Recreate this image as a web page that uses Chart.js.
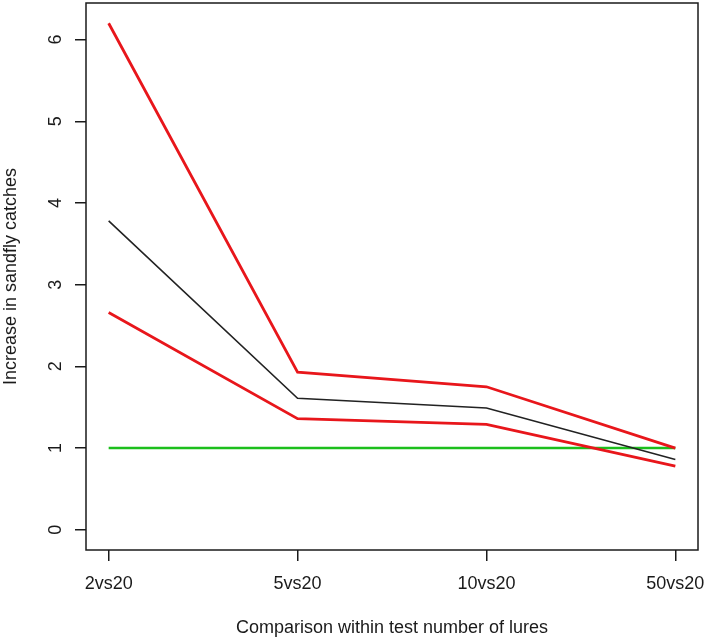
<!DOCTYPE html>
<html>
<head>
<meta charset="utf-8">
<title>Increase in sandfly catches</title>
<script src="https://cdn.jsdelivr.net/npm/chart.js@4.4.1/dist/chart.umd.min.js"></script>
<style>
    html, body { margin: 0; padding: 0; background: #fff; }
    #wrap { width: 707px; height: 640px; position: relative; }
</style>
</head>
<body>
<div id="wrap"><canvas id="lureChart"></canvas></div>
<script>
const comparisons = ["2vs20", "5vs20", "10vs20", "50vs20"];
const upperCI = [6.2, 1.93, 1.75, 1.0];
const estimate = [3.78, 1.61, 1.49, 0.86];
const lowerCI = [2.66, 1.36, 1.29, 0.78];
const reference = [1, 1, 1, 1];
const yTicks = [0, 1, 2, 3, 4, 5, 6];

document.addEventListener("DOMContentLoaded", () => {

    const chartCanvas = document.getElementById("lureChart");
    const textColor = "#1a1a1a";
    const fontFamily = "'Liberation Sans', Arial, sans-serif";

    // x positions 1..n like R's default index axis
    const toPoints = (values) => values.map((v, i) => ({ x: i + 1, y: v }));

    // R style box round the plot region
    const boxPlugin = {
        id: "boxPlugin",
        afterDraw(chart) {
            const { ctx, chartArea } = chart;
            ctx.save();
            ctx.strokeStyle = textColor;
            ctx.lineWidth = 1.5;
            ctx.strokeRect(chartArea.left, chartArea.top,
                chartArea.right - chartArea.left, chartArea.bottom - chartArea.top);
            ctx.restore();
        }
    };

    // y tick labels turned 90 degrees, as R draws them
    const yLabelPlugin = {
        id: "yLabelPlugin",
        afterDraw(chart) {
            const { ctx } = chart;
            const yScale = chart.scales.y;
            ctx.save();
            ctx.fillStyle = textColor;
            ctx.font = "18px " + fontFamily;
            ctx.textAlign = "center";
            ctx.textBaseline = "alphabetic";
            yTicks.forEach(v => {
                const y = yScale.getPixelForValue(v);
                ctx.save();
                ctx.translate(61, y);
                ctx.rotate(-Math.PI / 2);
                ctx.fillText(String(v), 0, 0);
                ctx.restore();
            });
            ctx.restore();
        }
    };

    new Chart(chartCanvas.getContext("2d"), {
        type: "line",
        data: {
            datasets: [
                {
                    label: "Estimate",
                    data: toPoints(estimate),
                    borderColor: "#222222",
                    borderWidth: 1.6
                },
                {
                    label: "Upper limit",
                    data: toPoints(upperCI),
                    borderColor: "#e8161b",
                    borderWidth: 2.8
                },
                {
                    label: "Lower limit",
                    data: toPoints(lowerCI),
                    borderColor: "#e8161b",
                    borderWidth: 2.8
                },
                {
                    label: "No effect",
                    data: toPoints(reference),
                    borderColor: "#1cbf1c",
                    borderWidth: 2.4
                }
            ]
        },
        options: {
            responsive: true,
            maintainAspectRatio: false,
            animation: false,
            elements: {
                point: { radius: 0, hoverRadius: 0 },
                line: { tension: 0, fill: false }
            },
            layout: {
                padding: { top: 3, right: 9, left: 0, bottom: 0 }
            },
            plugins: {
                legend: { display: false },
                tooltip: { enabled: false }
            },
            scales: {
                x: {
                    type: "linear",
                    min: 0.88,
                    max: 4.12,
                    afterBuildTicks: (scale) => {
                        scale.ticks = comparisons.map((c, i) => ({ value: i + 1 }));
                    },
                    afterFit: (scale) => {
                        scale.height = 90;
                        scale.paddingLeft = 0;
                        scale.paddingRight = 0;
                    },
                    border: { display: false },
                    grid: {
                        drawOnChartArea: false,
                        drawTicks: true,
                        tickLength: 11,
                        color: textColor,
                        lineWidth: 1.5
                    },
                    ticks: {
                        autoSkip: false,
                        maxRotation: 0,
                        padding: 12,
                        color: textColor,
                        font: { size: 18, family: fontFamily },
                        callback: (value) => comparisons[Math.round(value) - 1]
                    },
                    title: {
                        display: true,
                        text: "Comparison within test number of lures",
                        color: textColor,
                        font: { size: 18, family: fontFamily },
                        padding: { top: 0, bottom: 1 }
                    }
                },
                y: {
                    type: "linear",
                    min: -0.248,
                    max: 6.448,
                    afterBuildTicks: (scale) => {
                        scale.ticks = yTicks.map(v => ({ value: v }));
                    },
                    afterFit: (scale) => {
                        scale.width = 86;
                        scale.paddingTop = 0;
                        scale.paddingBottom = 0;
                    },
                    border: { display: false },
                    grid: {
                        drawOnChartArea: false,
                        drawTicks: true,
                        tickLength: 11,
                        color: textColor,
                        lineWidth: 1.5
                    },
                    ticks: { display: false },
                    title: {
                        display: true,
                        text: "Increase in sandfly catches",
                        color: textColor,
                        font: { size: 18, family: fontFamily },
                        padding: { top: 0, bottom: 0 }
                    }
                }
            }
        },
        plugins: [boxPlugin, yLabelPlugin]
    });

});
</script>
</body>
</html>
